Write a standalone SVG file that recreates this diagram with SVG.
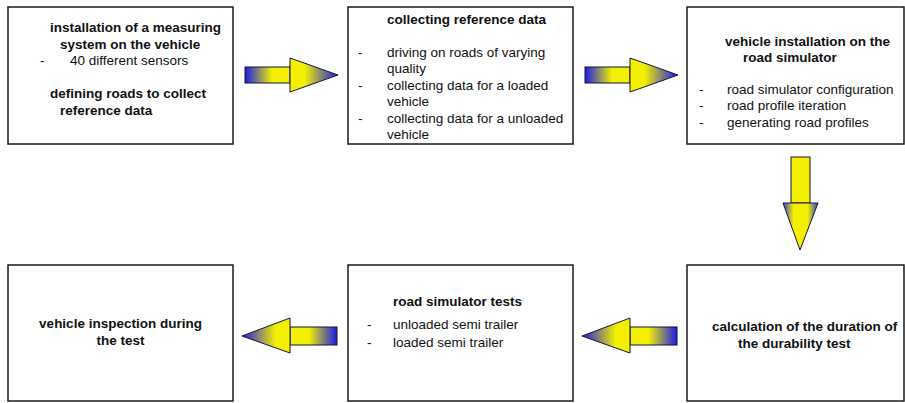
<svg xmlns="http://www.w3.org/2000/svg" width="905" height="403" viewBox="0 0 905 403">
  <defs>
    <linearGradient id="shaftR" x1="0" y1="0" x2="1" y2="0">
      <stop offset="0" stop-color="#1a1ae6"/>
      <stop offset="0.6" stop-color="#f2f000"/>
      <stop offset="1" stop-color="#f2f000"/>
    </linearGradient>
    <linearGradient id="headR" x1="0" y1="0" x2="1" y2="0">
      <stop offset="0" stop-color="#f2f000"/>
      <stop offset="0.3" stop-color="#f2f000"/>
      <stop offset="1" stop-color="#1a1ae6"/>
    </linearGradient>
    <linearGradient id="shaftL" x1="1" y1="0" x2="0" y2="0">
      <stop offset="0" stop-color="#1a1ae6"/>
      <stop offset="0.6" stop-color="#f2f000"/>
      <stop offset="1" stop-color="#f2f000"/>
    </linearGradient>
    <linearGradient id="headL" x1="1" y1="0" x2="0" y2="0">
      <stop offset="0" stop-color="#f2f000"/>
      <stop offset="0.3" stop-color="#f2f000"/>
      <stop offset="1" stop-color="#1a1ae6"/>
    </linearGradient>
    <linearGradient id="headD" x1="0" y1="0" x2="1" y2="0">
      <stop offset="0" stop-color="#3a3ad8"/>
      <stop offset="0.3" stop-color="#f2f000"/>
      <stop offset="0.7" stop-color="#f2f000"/>
      <stop offset="1" stop-color="#3a3ad8"/>
    </linearGradient>
  </defs>
  <style>
    .box { fill: #ffffff; stroke: #1a1a1a; stroke-width: 1.5; }
    text { font-family: "Liberation Sans", Arial, sans-serif; font-size: 13.5px; fill: #111111; }
    .b { font-weight: bold; }
    .arr { stroke: #14143c; stroke-width: 1; stroke-linejoin: miter; }
  </style>
  <rect width="905" height="403" fill="#ffffff"/>

  <g id="node-install-measuring">
    <rect class="box" x="8" y="7" width="225" height="137"/>
    <text class="b" x="50" y="32">installation of a measuring</text>
    <text class="b" x="60" y="49">system on the vehicle</text>
    <text x="40" y="65">-</text>
    <text x="70" y="65">40 different sensors</text>
    <text class="b" x="50" y="98">defining roads to collect</text>
    <text class="b" x="60" y="115">reference data</text>
  </g>

  <g id="node-collecting">
    <rect class="box" x="348" y="7" width="225" height="137"/>
    <text class="b" x="387" y="24">collecting reference data</text>
    <text x="358" y="57">-</text>
    <text x="387" y="57">driving on roads of varying</text>
    <text x="387" y="73">quality</text>
    <text x="358" y="90">-</text>
    <text x="387" y="90">collecting data for a loaded</text>
    <text x="387" y="106">vehicle</text>
    <text x="358" y="123">-</text>
    <text x="387" y="123">collecting data for a unloaded</text>
    <text x="387" y="139">vehicle</text>
  </g>

  <g id="node-vehicle-installation">
    <rect class="box" x="687" y="7" width="217" height="137"/>
    <text class="b" x="725" y="46">vehicle installation on the</text>
    <text class="b" x="743" y="62">road simulator</text>
    <text x="699" y="94">-</text>
    <text x="727" y="94">road simulator configuration</text>
    <text x="699" y="110">-</text>
    <text x="727" y="110">road profile iteration</text>
    <text x="699" y="127">-</text>
    <text x="727" y="127">generating road profiles</text>
  </g>

  <g id="node-calculation">
    <rect class="box" x="687" y="265" width="217" height="136"/>
    <text class="b" x="712" y="331">calculation of the duration of</text>
    <text class="b" x="738" y="348">the durability test</text>
  </g>

  <g id="node-road-tests">
    <rect class="box" x="348" y="265" width="225" height="136"/>
    <text class="b" x="393" y="306">road simulator tests</text>
    <text x="367" y="329">-</text>
    <text x="393" y="329">unloaded semi trailer</text>
    <text x="367" y="347">-</text>
    <text x="393" y="347">loaded semi trailer</text>
  </g>

  <g id="node-inspection">
    <rect class="box" x="8" y="265" width="225" height="136"/>
    <text class="b" x="120.5" y="328" text-anchor="middle">vehicle inspection during</text>
    <text class="b" x="120.5" y="345" text-anchor="middle">the test</text>
  </g>

  <g id="connectors">
    <g id="arrow-1-2">
      <rect class="arr" x="245" y="67" width="45" height="16" fill="url(#shaftR)"/>
      <polygon class="arr" points="290,58 338,75 290,92" fill="url(#headR)"/>
    </g>
    <g id="arrow-2-3">
      <rect class="arr" x="585" y="67" width="45" height="16" fill="url(#shaftR)"/>
      <polygon class="arr" points="630,58 678,75 630,92" fill="url(#headR)"/>
    </g>
    <g id="arrow-3-6">
      <rect class="arr" x="791" y="157" width="19" height="46" fill="#f2f000"/>
      <polygon class="arr" points="783,203 818,203 800,250" fill="url(#headD)"/>
    </g>
    <g id="arrow-6-5">
      <rect class="arr" x="630" y="327" width="47" height="18" fill="url(#shaftL)"/>
      <polygon class="arr" points="630,318 582,336 630,353" fill="url(#headL)"/>
    </g>
    <g id="arrow-5-4">
      <rect class="arr" x="290" y="327" width="47" height="18" fill="url(#shaftL)"/>
      <polygon class="arr" points="290,318 242,336 290,353" fill="url(#headL)"/>
    </g>
  </g>
</svg>
